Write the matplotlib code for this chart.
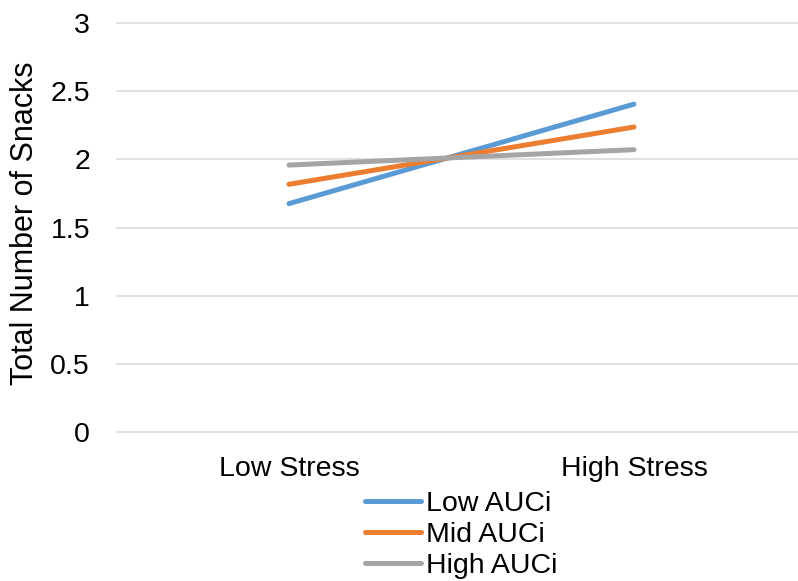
import matplotlib
matplotlib.use('Agg')
import matplotlib.pyplot as plt

plt.rcParams['font.family'] = ['Liberation Sans', 'DejaVu Sans']

categories = ['Low Stress', 'High Stress']
series_names = ['Low AUCi', 'Mid AUCi', 'High AUCi']
low_auci = [1.675, 2.405]
mid_auci = [1.817, 2.237]
high_auci = [1.958, 2.071]
colors = ['#5B9BD5', '#ED7D31', '#A5A5A5']
yticks = [0, 0.5, 1, 1.5, 2, 2.5, 3]
yticklabels = ['0', '0.5', '1', '1.5', '2', '2.5', '3']

fig = plt.figure(figsize=(7.98, 5.81), dpi=100)
# axes slightly wider than the figure so categories sit like in the original
ax = fig.add_axes([116.5 / 798, 1 - 432 / 581, 690 / 798, 409 / 581])

x = range(len(categories))
for vals, name, c in zip([low_auci, mid_auci, high_auci], series_names, colors):
    ax.plot(x, vals, color=c, linewidth=3.6, solid_capstyle='round', label=name)

ax.set_xlim(-0.5, 1.5)
ax.set_ylim(0, 3)
ax.set_yticks(yticks)
ax.set_yticklabels(yticklabels)
ax.set_xticks(list(x))
ax.set_xticklabels(categories)
ax.grid(axis='y', color='#D9D9D9', linewidth=1.1)
ax.set_axisbelow(True)
for s in ax.spines.values():
    s.set_visible(False)
ax.tick_params(axis='both', length=0, labelsize=20.5, colors='black')
ax.tick_params(axis='y', pad=19)
ax.tick_params(axis='x', pad=17)
for gl in ax.get_ygridlines():
    gl.set_clip_on(False)

ax.set_ylabel('Total Number of Snacks', fontsize=22, va='center')
ax.yaxis.set_label_coords((25 - 116.5) / 690, 0.51)

fig.legend(loc='center', bbox_to_anchor=(461 / 798, 1 - 535 / 581),
           frameon=False, fontsize=20.5, handlelength=1.95,
           handletextpad=0.18, labelspacing=0.19, borderpad=0)

fig.savefig('out.png', dpi=100)
